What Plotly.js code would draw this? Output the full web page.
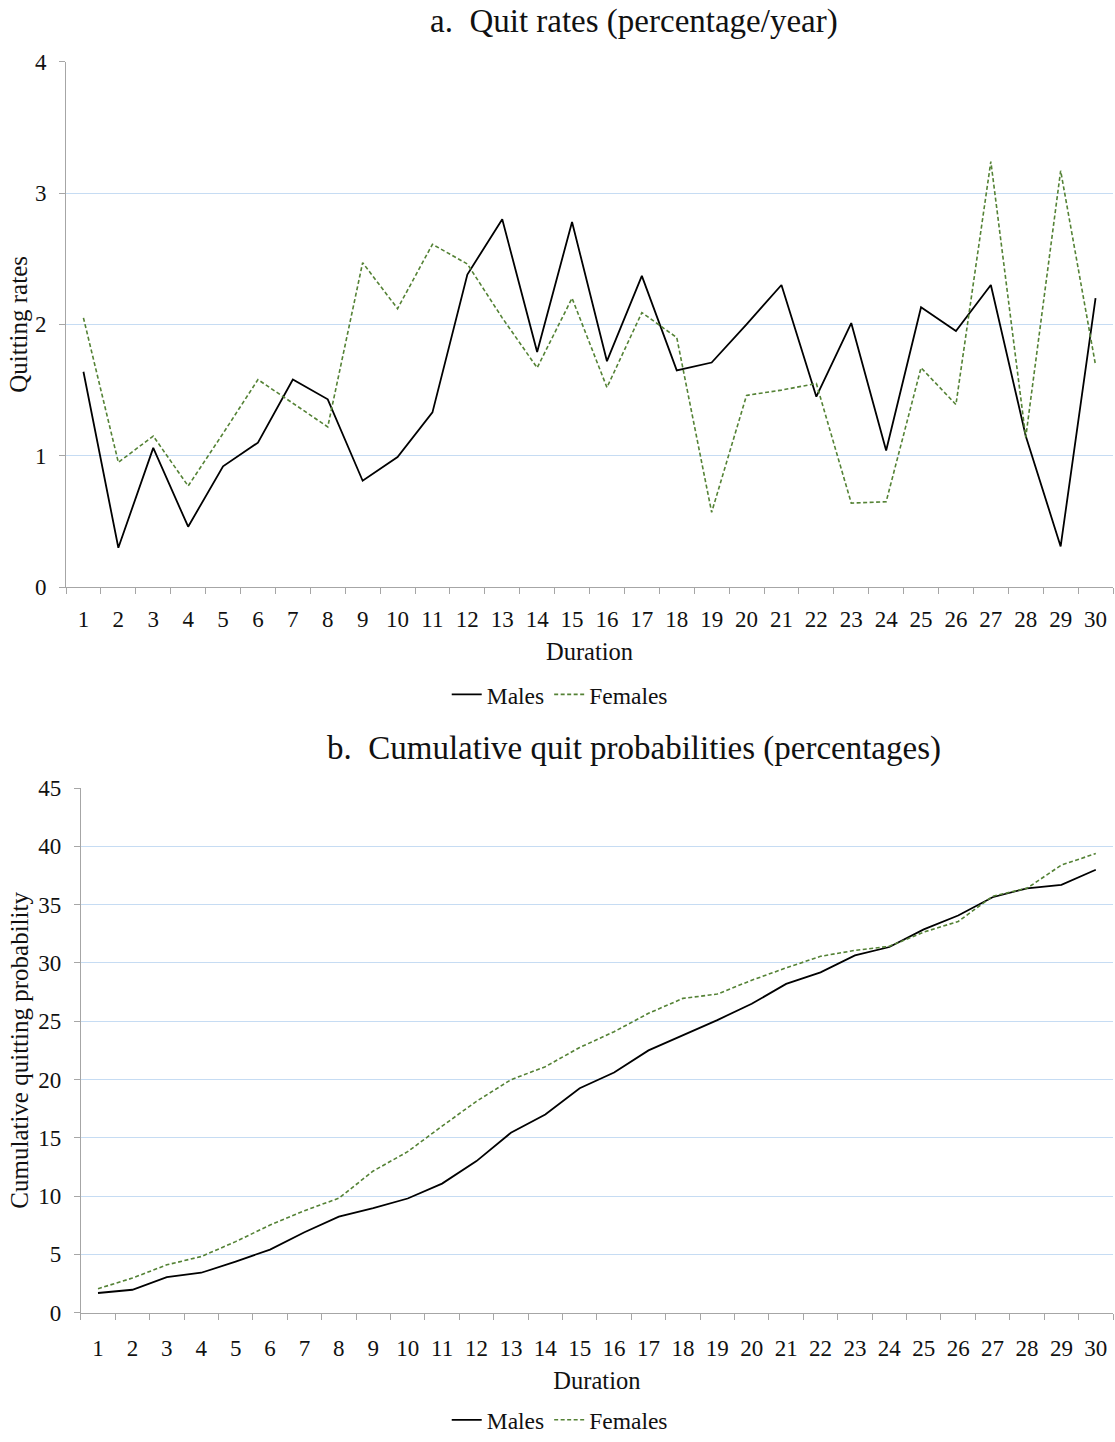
<!DOCTYPE html>
<html>
<head>
<meta charset="utf-8">
<script src="https://cdn.plot.ly/plotly-3.0.1.min.js"></script>
<style>html,body{margin:0;padding:0;background:#fff;}#chart{width:1115px;height:1442px;}</style>
</head>
<body>
<div id="chart"></div>
<script>
const durations = ["1","2","3","4","5","6","7","8","9","10","11","12","13","14","15","16","17","18","19","20","21","22","23","24","25","26","27","28","29","30"];

const quitMales = [1.64,0.30,1.06,0.46,0.92,1.10,1.58,1.43,0.81,0.99,1.33,2.38,2.80,1.79,2.78,1.72,2.37,1.65,1.71,2.00,2.30,1.45,2.01,1.04,2.13,1.95,2.30,1.15,0.31,2.20];
const quitFemales = [2.05,0.95,1.15,0.77,1.17,1.58,1.40,1.22,2.47,2.12,2.61,2.46,2.05,1.67,2.20,1.52,2.09,1.90,0.57,1.46,1.50,1.55,0.64,0.65,1.67,1.39,3.24,1.14,3.17,1.69];

const cumMales = [1.68,1.96,3.05,3.42,4.38,5.41,6.89,8.23,8.97,9.79,11.07,13.0,15.43,17.0,19.25,20.6,22.5,23.8,25.1,26.5,28.2,29.2,30.65,31.37,32.88,34.07,35.64,36.41,36.7,38.0];
const cumFemales = [2.05,2.96,4.10,4.81,6.09,7.51,8.74,9.82,12.15,13.81,16.0,18.13,19.98,21.1,22.75,24.1,25.68,26.96,27.33,28.52,29.58,30.57,31.08,31.43,32.65,33.56,35.72,36.41,38.4,39.39];

const seriesNames = ["Males","Females"];
const titleA = "a.  Quit rates (percentage/year)";
const titleB = "b.  Cumulative quit probabilities (percentages)";

const serif = "Liberation Serif, Times New Roman, serif";
const maleLine = {color:"#000000", width:1.8};
const femaleLine = {color:"#548235", width:1.6, dash:"4px,2.5px"};

const traces = [
  {x:durations, y:quitMales, name:seriesNames[0], type:"scatter", mode:"lines", line:maleLine, xaxis:"x", yaxis:"y", legend:"legend"},
  {x:durations, y:quitFemales, name:seriesNames[1], type:"scatter", mode:"lines", line:femaleLine, xaxis:"x", yaxis:"y", legend:"legend"},
  {x:durations, y:cumMales, name:seriesNames[0], type:"scatter", mode:"lines", line:maleLine, xaxis:"x2", yaxis:"y2", legend:"legend2"},
  {x:durations, y:cumFemales, name:seriesNames[1], type:"scatter", mode:"lines", line:femaleLine, xaxis:"x2", yaxis:"y2", legend:"legend2"}
];

const W = 1115, H = 1442;
const tickFont = {family:serif, size:23, color:"#111"};
function xAxis(left, anchor, labelOff, titleOff){
  return {
    type:"category", domain:[left/W, 1113/W], anchor:anchor,
    range:[-0.5,29.5], tickson:"boundaries", ticks:"outside", ticklen:6, tickcolor:"#a6a6a6", tickwidth:1,
    ticklabelstandoff:labelOff,
    showline:true, linecolor:"#a6a6a6", linewidth:1, showgrid:false, zeroline:false,
    tickfont:tickFont, tickangle:0,
    title:{text:"Duration", font:{family:serif, size:24.5, color:"#111"}, standoff:titleOff},
    fixedrange:true
  };
}
function yAxis(top, bottom, anchor, rng, dtick, ttl, titleOff){
  return {
    domain:[1-bottom/H, 1-top/H], anchor:anchor, range:rng, dtick:dtick, tick0:0,
    ticks:"outside", ticklen:6, tickcolor:"#a6a6a6", tickwidth:1,
    ticklabelstandoff:8,
    showline:true, linecolor:"#a6a6a6", linewidth:1,
    showgrid:true, gridcolor:"#c6dcf3", gridwidth:1, zeroline:false,
    tickfont:tickFont,
    title:{text:ttl, font:{family:serif, size:25, color:"#111"}, standoff:titleOff},
    fixedrange:true
  };
}

const layout = {
  width:W, height:H,
  margin:{l:0, r:0, t:0, b:0},
  paper_bgcolor:"#ffffff", plot_bgcolor:"#ffffff",
  showlegend:true,
  xaxis: xAxis(66, "y", 11, 12),
  yaxis: yAxis(62, 590, "x", [0,4], 1, "Quitting rates", 0),
  xaxis2: xAxis(80.8, "y2", 15, 11),
  yaxis2: yAxis(792, 1319, "x2", [0,45], 5, "Cumulative quitting probability", 2),
  legend:{orientation:"h", x:0.502, xanchor:"center", y:1-698/H, yanchor:"middle", font:{family:serif, size:23.5, color:"#111"}, itemwidth:30, tracegroupgap:0, bgcolor:"rgba(0,0,0,0)"},
  legend2:{orientation:"h", x:0.502, xanchor:"center", y:1-1427/H, yanchor:"middle", font:{family:serif, size:23.5, color:"#111"}, itemwidth:30, tracegroupgap:0, bgcolor:"rgba(0,0,0,0)"},
  annotations:[
    {text:titleA, xref:"paper", yref:"paper", x:634/W, y:1-22/H, xanchor:"center", yanchor:"middle", showarrow:false, font:{family:serif, size:33, color:"#111"}},
    {text:titleB, xref:"paper", yref:"paper", x:634/W, y:1-752/H, xanchor:"center", yanchor:"middle", showarrow:false, font:{family:serif, size:33, color:"#111"}}
  ]
};

Plotly.newPlot("chart", traces, layout, {displayModeBar:false, staticPlot:true});
</script>
</body>
</html>
